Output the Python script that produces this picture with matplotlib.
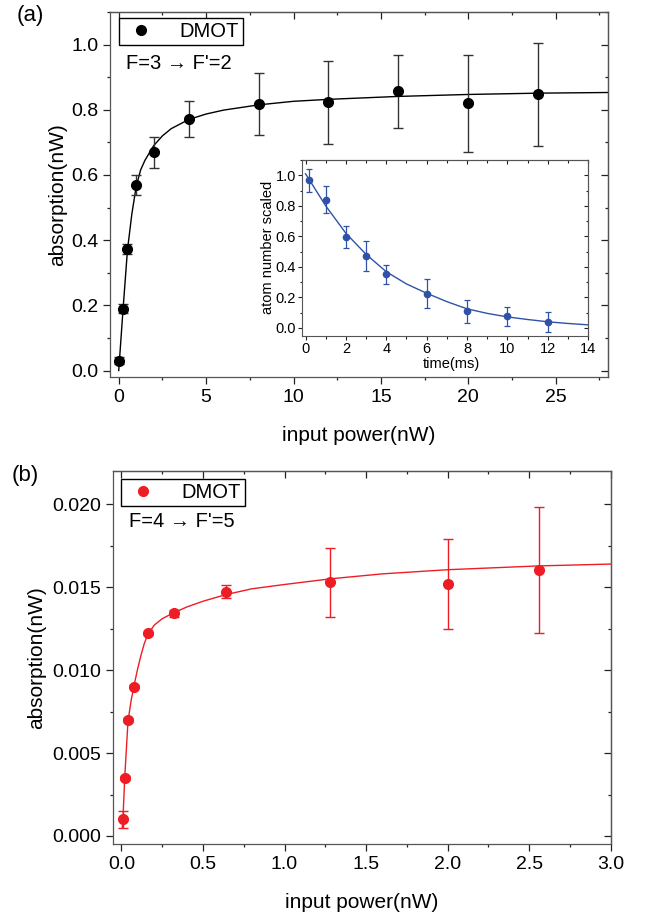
import matplotlib
matplotlib.use('Agg')
import matplotlib.pyplot as plt
from matplotlib.ticker import MultipleLocator, FormatStrFormatter
from matplotlib.lines import Line2D

plt.rcParams['font.family'] = ['Liberation Sans', 'DejaVu Sans']

# panel (a): F=3 -> F'=2
a_x = [0, 0.25, 0.5, 1, 2, 4, 8, 12, 16, 20, 24]
a_y = [0.03, 0.19, 0.373, 0.570, 0.669, 0.772, 0.818, 0.823, 0.857, 0.820, 0.847]
a_err = [0.01, 0.015, 0.015, 0.03, 0.047, 0.055, 0.094, 0.128, 0.112, 0.149, 0.159]
a_fit_x = [0, 0.25, 0.5, 0.75, 1, 1.25, 1.5, 2, 2.5, 3, 4, 5, 6, 8, 10, 12, 16, 20, 24, 28]
a_fit_y = [0.0, 0.19, 0.37, 0.48, 0.565, 0.615, 0.645, 0.69, 0.72, 0.742, 0.77, 0.787,
           0.799, 0.815, 0.826, 0.832, 0.841, 0.847, 0.851, 0.853]

# inset: atom number decay
in_x = [0.15, 1, 2, 3, 4, 6, 8, 10, 12]
in_y = [0.967, 0.84, 0.596, 0.472, 0.352, 0.224, 0.108, 0.075, 0.037]
in_err = [0.075, 0.09, 0.073, 0.1, 0.062, 0.094, 0.077, 0.06, 0.064]
in_fit_x = [0, 1, 2, 3, 4, 5, 6, 7, 8, 9, 10, 11, 12, 13, 14]
in_fit_y = [1.01, 0.80, 0.62, 0.482, 0.368, 0.288, 0.227, 0.172, 0.125, 0.095,
            0.072, 0.055, 0.04, 0.029, 0.02]

# panel (b): F=4 -> F'=5
b_x = [0.01, 0.02, 0.04, 0.08, 0.16, 0.32, 0.64, 1.28, 2.0, 2.56]
b_y = [0.0010, 0.0035, 0.0070, 0.0090, 0.01221, 0.01342, 0.01472, 0.01528, 0.01518, 0.01605]
b_err = [0.0005, 0.0001, 0.0001, 0.0001, 0.0001, 0.0002, 0.0004, 0.0021, 0.0027, 0.0038]
b_fit_x = [0.005, 0.01, 0.02, 0.04, 0.06, 0.08, 0.10, 0.12, 0.14, 0.16, 0.2, 0.25, 0.32,
           0.4, 0.5, 0.64, 0.8, 1.0, 1.28, 1.6, 2.0, 2.56, 3.0]
b_fit_y = [0.0005, 0.0012, 0.0035, 0.0069, 0.0082, 0.0092, 0.0101, 0.0109, 0.0116,
           0.0121, 0.0127, 0.0131, 0.01345, 0.0138, 0.01415, 0.01455, 0.0149, 0.01516,
           0.0155, 0.0158, 0.01605, 0.01628, 0.01639]

SPINE = '#555555'
RED = '#ee1d25'
BLUE = '#2f52a8'


def origin_ticks(ax, xmaj, xmin, ymaj, ymin, maj=5, mnr=2.5, lw=0.9, size=14, pad=3.5):
    # outward ticks left/bottom, inward mirrored ticks top/right
    for s in ax.spines.values():
        s.set_color(SPINE)
        s.set_linewidth(lw)
    ax.xaxis.set_major_locator(MultipleLocator(xmaj))
    ax.xaxis.set_minor_locator(MultipleLocator(xmin))
    ax.yaxis.set_major_locator(MultipleLocator(ymaj))
    ax.yaxis.set_minor_locator(MultipleLocator(ymin))
    ax.tick_params(which='both', direction='out', color='#222222', width=lw,
                   labelsize=size, pad=pad, top=False, right=False)
    ax.tick_params(which='major', length=maj)
    ax.tick_params(which='minor', length=mnr)
    top = ax.secondary_xaxis('top')
    top.xaxis.set_major_locator(MultipleLocator(xmaj))
    top.xaxis.set_minor_locator(MultipleLocator(xmin))
    right = ax.secondary_yaxis('right')
    right.yaxis.set_major_locator(MultipleLocator(ymaj))
    right.yaxis.set_minor_locator(MultipleLocator(ymin))
    for sec in (top, right):
        sec.tick_params(which='both', direction='in', color='#222222', width=lw,
                        labeltop=False, labelright=False, labelbottom=False, labelleft=False)
        sec.tick_params(which='major', length=maj)
        sec.tick_params(which='minor', length=mnr)
        for s in sec.spines.values():
            s.set_color(SPINE)
            s.set_linewidth(lw)


fig = plt.figure(figsize=(6.47, 9.16), dpi=100)

# ---- (a)
ax1 = fig.add_axes([0.170, 0.5884, 0.770, 0.3985])
ax1.plot(a_fit_x, a_fit_y, color='black', lw=1.0, zorder=2)
ax1.errorbar(a_x, a_y, yerr=a_err, fmt='o', color='black', ecolor='#333333',
             ms=7, elinewidth=1.0, capsize=3.5, capthick=1.0, zorder=3)
ax1.set_xlim(-0.5, 28)
ax1.set_ylim(-0.02, 1.1)
origin_ticks(ax1, 5, 2.5, 0.2, 0.1)
ax1.yaxis.set_major_formatter(FormatStrFormatter('%.1f'))
ax1.set_xlabel('input power(nW)', fontsize=15, va='center')
ax1.xaxis.set_label_coords(0.5, -0.159)
ax1.set_ylabel('absorption(nW)', fontsize=15, va='center')
ax1.yaxis.set_label_coords(-0.106, 0.5)
h = Line2D([], [], marker='o', ls='none', color='black', ms=7)
leg = ax1.legend([h], ['DMOT'], loc='upper left', bbox_to_anchor=(0.018, 0.983),
                 fontsize=14.5, frameon=True, fancybox=False, edgecolor='black',
                 framealpha=1, borderaxespad=0, borderpad=0.2, handlelength=1.8,
                 handletextpad=1.0)
leg.get_frame().set_linewidth(1.0)
ax1.text(0.032, 0.86, "F=3 \u2192 F'=2", transform=ax1.transAxes, fontsize=14.5,
         ha='left', va='center')
fig.text(17 / 647, 1 - 15 / 916, '(a)', fontsize=16, ha='left', va='center')

# ---- inset
ax_in = fig.add_axes([0.4675, 0.6337, 0.4417, 0.1916])
ax_in.plot(in_fit_x, in_fit_y, color=BLUE, lw=1.0, zorder=2)
ax_in.errorbar(in_x, in_y, yerr=in_err, fmt='o', color=BLUE, ecolor=BLUE,
               ms=4.5, elinewidth=0.9, capsize=2, capthick=0.9, zorder=3)
ax_in.set_xlim(-0.15, 14)
ax_in.set_ylim(-0.05, 1.1)
origin_ticks(ax_in, 2, 1, 0.2, 0.1, maj=3, mnr=1.8, lw=0.8, size=10.5, pad=1.5)
ax_in.yaxis.set_major_formatter(FormatStrFormatter('%.1f'))
ax_in.set_xlabel('time(ms)', fontsize=10.5, va='center')
ax_in.xaxis.set_label_coords(0.52, -0.16)
ax_in.set_ylabel('atom number scaled', fontsize=10.5, va='center')
ax_in.yaxis.set_label_coords(-0.122, 0.5)

# ---- (b)
ax2 = fig.add_axes([0.1751, 0.0783, 0.7688, 0.4075])
ax2.plot(b_fit_x, b_fit_y, color=RED, lw=1.0, zorder=2)
ax2.errorbar(b_x, b_y, yerr=b_err, fmt='o', color=RED, ecolor=RED,
             ms=7, elinewidth=1.0, capsize=3.5, capthick=1.0, zorder=3)
ax2.set_xlim(-0.05, 3.0)
ax2.set_ylim(-0.0005, 0.022)
origin_ticks(ax2, 0.5, 0.25, 0.005, 0.0025)
ax2.yaxis.set_major_formatter(FormatStrFormatter('%.3f'))
ax2.xaxis.set_major_formatter(FormatStrFormatter('%.1f'))
ax2.set_xlabel('input power(nW)', fontsize=15, va='center')
ax2.xaxis.set_label_coords(0.5, -0.157)
ax2.set_ylabel('absorption(nW)', fontsize=15, va='center')
ax2.yaxis.set_label_coords(-0.155, 0.5)
h2 = Line2D([], [], marker='o', ls='none', color=RED, ms=7)
leg2 = ax2.legend([h2], ['DMOT'], loc='upper left', bbox_to_anchor=(0.015, 0.978),
                  fontsize=14.5, frameon=True, fancybox=False, edgecolor='black',
                  framealpha=1, borderaxespad=0, borderpad=0.2, handlelength=1.8,
                  handletextpad=1.0)
leg2.get_frame().set_linewidth(1.0)
ax2.text(0.032, 0.865, "F=4 \u2192 F'=5", transform=ax2.transAxes, fontsize=14.5,
         ha='left', va='center')
fig.text(12 / 647, 1 - 475 / 916, '(b)', fontsize=16, ha='left', va='center')

fig.savefig('out.png', dpi=100)
